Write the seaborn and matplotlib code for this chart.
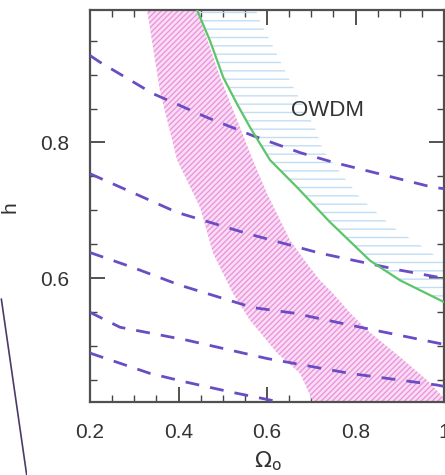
import numpy as np
import pandas as pd
import matplotlib
matplotlib.use("Agg")
import matplotlib.pyplot as plt
from matplotlib.ticker import MultipleLocator
import seaborn as sns

# Lines of constant age (dashed): Omega_0 vs h
age_x = [
    [0.200, 0.223, 0.342, 0.464, 0.568, 0.675, 0.749, 0.975, 1.000],
    [0.200, 0.297, 0.397, 0.555, 0.720, 0.901, 1.000],
    [0.200, 0.297, 0.403, 0.568, 0.659, 0.826, 0.991, 1.000],
    [0.200, 0.268, 0.419, 0.600, 0.788, 0.984, 1.000],
    [0.200, 0.336, 0.419, 0.523, 0.629],
]
age_h = [
    [0.928, 0.918, 0.872, 0.837, 0.810, 0.785, 0.771, 0.734, 0.732],
    [0.754, 0.726, 0.697, 0.666, 0.637, 0.612, 0.600],
    [0.638, 0.616, 0.590, 0.557, 0.549, 0.526, 0.504, 0.503],
    [0.550, 0.528, 0.509, 0.482, 0.460, 0.443, 0.441],
    [0.490, 0.460, 0.447, 0.432, 0.418],
]

# Green boundary curve
edge_x = [0.442, 0.471, 0.501, 0.532, 0.562, 0.607, 0.668, 0.742, 0.833, 0.901, 0.991, 1.000]
edge_h = [0.995, 0.950, 0.896, 0.857, 0.822, 0.774, 0.734, 0.683, 0.626, 0.597, 0.568, 0.565]

# OWDM allowed region: right-hand limit as a function of h
owdm_h = [0.565, 0.624, 0.649, 0.675, 0.719, 0.788, 0.822, 0.891, 0.921, 0.950, 0.979, 0.995]
owdm_right = [1.000, 1.000, 0.946, 0.885, 0.810, 0.727, 0.708, 0.652, 0.629, 0.607, 0.584, 0.575]

# Cluster-baryon band (pink)
band_left_x = [0.329, 0.358, 0.397, 0.449, 0.478, 0.523, 0.562, 0.623, 0.675, 0.704]
band_left_h = [0.995, 0.876, 0.774, 0.704, 0.637, 0.578, 0.538, 0.490, 0.460, 0.418]
band_right_x = [0.442, 0.494, 0.539, 0.568, 0.600, 0.652, 0.690, 0.720,
                0.749, 0.788, 0.826, 0.901, 0.962, 0.998, 1.000]
band_right_h = [0.995, 0.896, 0.822, 0.774, 0.725, 0.656, 0.622, 0.597,
                0.578, 0.549, 0.524, 0.484, 0.450, 0.425, 0.418]

# Neighbouring panel edge curve (figure-left strip)
side_x = [0.05, 0.30, 0.55, 0.75, 1.00]
side_y = [0.95, 0.70, 0.45, 0.25, 0.00]

x_ticks = [0.2, 0.4, 0.6, 0.8, 1.0]
x_ticklabels = ["0.2", "0.4", "0.6", "0.8", "1"]
y_ticks = [0.6, 0.8]
y_ticklabels = ["0.6", "0.8"]

sns.set_theme(style="ticks")
plt.rcParams["font.family"] = ["Liberation Sans", "DejaVu Sans"]
plt.rcParams["mathtext.fontset"] = "dejavusans"
plt.rcParams["hatch.linewidth"] = 1.0

fig = plt.figure(figsize=(4.45, 4.75), dpi=100)
ax = fig.add_axes([90 / 445, 1 - 402 / 475, 354 / 445, 392 / 475])

# Pink band
hh = np.linspace(0.418, 0.995, 200)
bl = np.interp(hh, band_left_h[::-1], band_left_x[::-1])
br = np.interp(hh, band_right_h[::-1], band_right_x[::-1])
ax.fill_betweenx(hh, bl, br, facecolor="#fadcf5", edgecolor="#e898dc",
                 hatch="//////", linewidth=0, zorder=1)

# OWDM hatched region right of the green curve
h2 = np.linspace(0.565, 0.995, 200)
gl = np.interp(h2, edge_h[::-1], edge_x[::-1])
gr = np.interp(h2, owdm_h, owdm_right)
ax.fill_betweenx(h2, gl, np.maximum(gl, gr), facecolor="none",
                 edgecolor="#c2def4", hatch="--", linewidth=0, zorder=1)

# Dashed age lines
for xs, hs in zip(age_x, age_h):
    df = pd.DataFrame({"Omega": xs, "h": hs})
    sns.lineplot(data=df, x="Omega", y="h", ax=ax, sort=False, estimator=None,
                 color="#6a4cc4", linewidth=2.0, zorder=3)
    ax.lines[-1].set_dashes((5, 4))

# Green boundary
sns.lineplot(x=edge_x, y=edge_h, ax=ax, sort=False, estimator=None,
             color="#5cc46a", linewidth=1.6, zorder=4)

ax.text(0.736, 0.847, "OWDM", fontsize=16, color="#333333",
        ha="center", va="center", zorder=5)

ax.set_xlim(0.2, 1.0)
ax.set_ylim(0.418, 0.995)
ax.set_xticks(x_ticks)
ax.set_xticklabels(x_ticklabels)
ax.set_yticks(y_ticks)
ax.set_yticklabels(y_ticklabels)
ax.xaxis.set_minor_locator(MultipleLocator(0.05))
ax.yaxis.set_minor_locator(MultipleLocator(0.05))
ax.tick_params(which="both", direction="in", top=True, right=True,
               colors="#444444", labelcolor="#333333", labelsize=15)
ax.tick_params(which="major", length=11, width=1.3, pad=15)
ax.tick_params(which="minor", length=5, width=1.0)
for s in ax.spines.values():
    s.set_color("#505050")
    s.set_linewidth(1.6)

ax.set_xlabel(r"$\Omega_{\rm o}$", fontsize=16, color="#333333")
ax.xaxis.set_label_coords(0.503, -0.12)
ax.set_ylabel("h", fontsize=15, color="#333333")
ax.yaxis.set_label_coords(-0.198, 0.497)

# Edge of the neighbouring panel on the left
side = fig.add_axes([0.0, 0.0, 0.06, 0.39])
side.plot(side_x, side_y, color="#4a3a6a", linewidth=1.2)
side.set_xlim(0, 1)
side.set_ylim(0, 1)
side.axis("off")

fig.savefig("out.png", dpi=100)
